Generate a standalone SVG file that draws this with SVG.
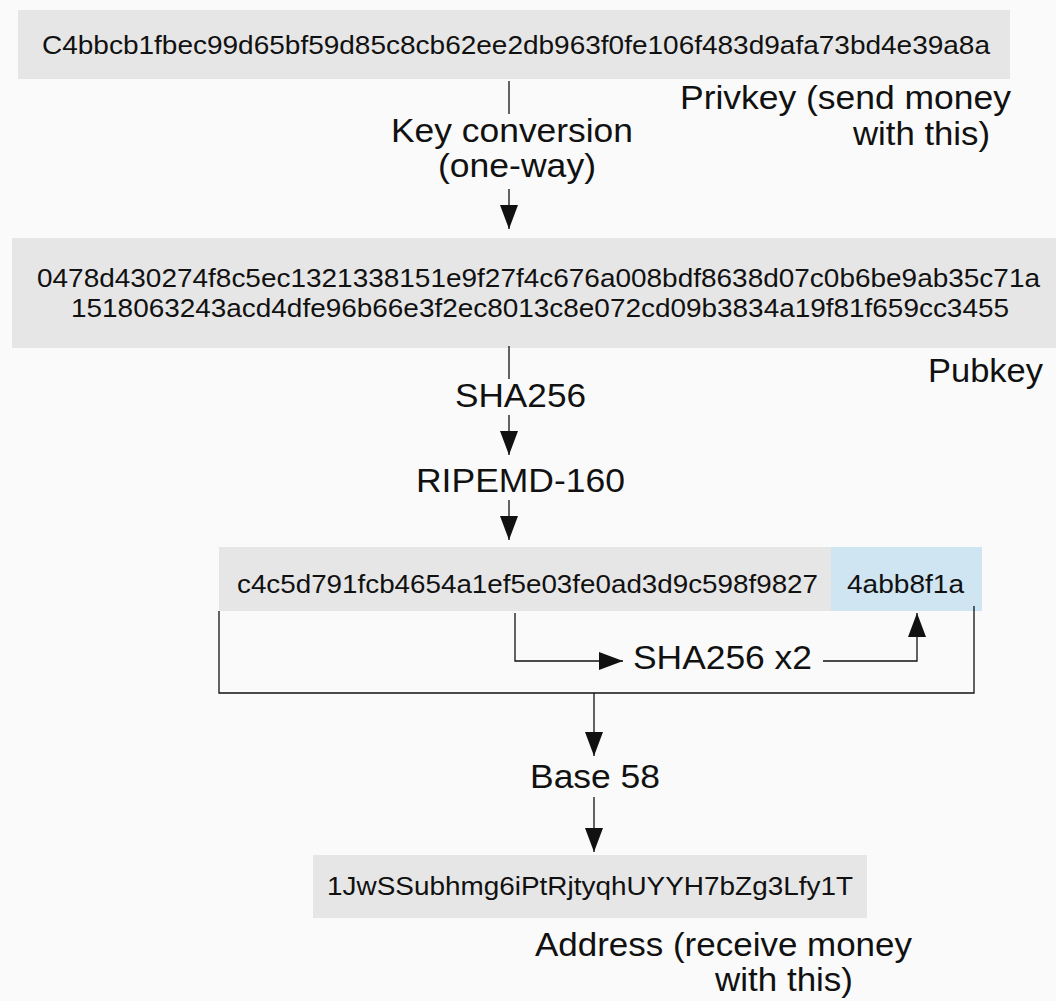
<svg xmlns="http://www.w3.org/2000/svg" width="1056" height="1001" viewBox="0 0 1056 1001">
<defs>
<style>
.bg{fill:#fafafa}
.box{fill:#e6e6e6}
.blue{fill:#cfe5f2}
.hex{font-family:"Liberation Sans",Arial,sans-serif;font-size:26px;fill:#111}
.lbl{font-family:"Liberation Sans",Arial,sans-serif;font-size:34px;fill:#111}
.ln{fill:none;stroke:#111;stroke-width:1.3}
</style>
<marker id="ah" markerUnits="userSpaceOnUse" markerWidth="24" markerHeight="18" refX="24" refY="9" orient="auto">
<path d="M0,0 L24,9 L0,18 z" fill="#111"/>
</marker>
</defs>
<rect class="bg" x="0" y="0" width="1056" height="1001"/>

<g id="privkey">
<rect class="box" x="18" y="10" width="992" height="69"/>
<text class="hex" x="42" y="54" textLength="948" lengthAdjust="spacingAndGlyphs">C4bbcb1fbec99d65bf59d85c8cb62ee2db963f0fe106f483d9afa73bd4e39a8a</text>
<text class="lbl" x="680" y="109" textLength="331" lengthAdjust="spacingAndGlyphs">Privkey (send money</text>
<text class="lbl" x="853" y="145" textLength="137" lengthAdjust="spacingAndGlyphs">with this)</text>
</g>

<g id="keyconv">
<text class="lbl" x="391" y="142" textLength="242" lengthAdjust="spacingAndGlyphs">Key conversion</text>
<text class="lbl" x="438" y="177" textLength="158" lengthAdjust="spacingAndGlyphs">(one-way)</text>
</g>

<g id="pubkey">
<rect class="box" x="12" y="238" width="1044" height="110"/>
<text class="hex" x="37" y="287" textLength="1003" lengthAdjust="spacingAndGlyphs">0478d430274f8c5ec1321338151e9f27f4c676a008bdf8638d07c0b6be9ab35c71a</text>
<text class="hex" x="71" y="317" textLength="938" lengthAdjust="spacingAndGlyphs">1518063243acd4dfe96b66e3f2ec8013c8e072cd09b3834a19f81f659cc3455</text>
<text class="lbl" x="928" y="382" textLength="115" lengthAdjust="spacingAndGlyphs">Pubkey</text>
</g>

<g id="sha256">
<text class="lbl" x="455" y="407" textLength="131" lengthAdjust="spacingAndGlyphs">SHA256</text>
</g>

<g id="ripemd">
<text class="lbl" x="416" y="492" textLength="209" lengthAdjust="spacingAndGlyphs">RIPEMD-160</text>
</g>

<g id="hash160">
<rect class="box" x="219" y="547" width="612" height="64"/>
<rect class="blue" x="831" y="547" width="151" height="64"/>
<text class="hex" x="237" y="593" textLength="581" lengthAdjust="spacingAndGlyphs">c4c5d791fcb4654a1ef5e03fe0ad3d9c598f9827</text>
<text class="hex" x="847" y="593" textLength="117" lengthAdjust="spacingAndGlyphs">4abb8f1a</text>
</g>

<g id="sha256x2">
<text class="lbl" x="633" y="669" textLength="179" lengthAdjust="spacingAndGlyphs">SHA256 x2</text>
</g>

<g id="base58">
<text class="lbl" x="530" y="788" textLength="130" lengthAdjust="spacingAndGlyphs">Base 58</text>
</g>

<g id="address">
<rect class="box" x="313" y="855" width="554" height="63"/>
<text class="hex" x="327" y="895" textLength="526" lengthAdjust="spacingAndGlyphs">1JwSSubhmg6iPtRjtyqhUYYH7bZg3Lfy1T</text>
<text class="lbl" x="535" y="956" textLength="377" lengthAdjust="spacingAndGlyphs">Address (receive money</text>
<text class="lbl" x="715" y="991" textLength="138" lengthAdjust="spacingAndGlyphs">with this)</text>
</g>

<g id="connectors">
<path class="ln" d="M509,81 V114"/>
<path class="ln" d="M509,189 V229" marker-end="url(#ah)"/>
<path class="ln" d="M509,346 V379"/>
<path class="ln" d="M509,415 V455" marker-end="url(#ah)"/>
<path class="ln" d="M509,500 V540" marker-end="url(#ah)"/>
<path class="ln" d="M515,613 V661 H623" marker-end="url(#ah)"/>
<path class="ln" d="M823,661 H917 V613" marker-end="url(#ah)"/>
<path class="ln" d="M219,611 V693 H974 V606"/>
<path class="ln" d="M594,693 V756" marker-end="url(#ah)"/>
<path class="ln" d="M594,797 V852" marker-end="url(#ah)"/>
</g>
</svg>
